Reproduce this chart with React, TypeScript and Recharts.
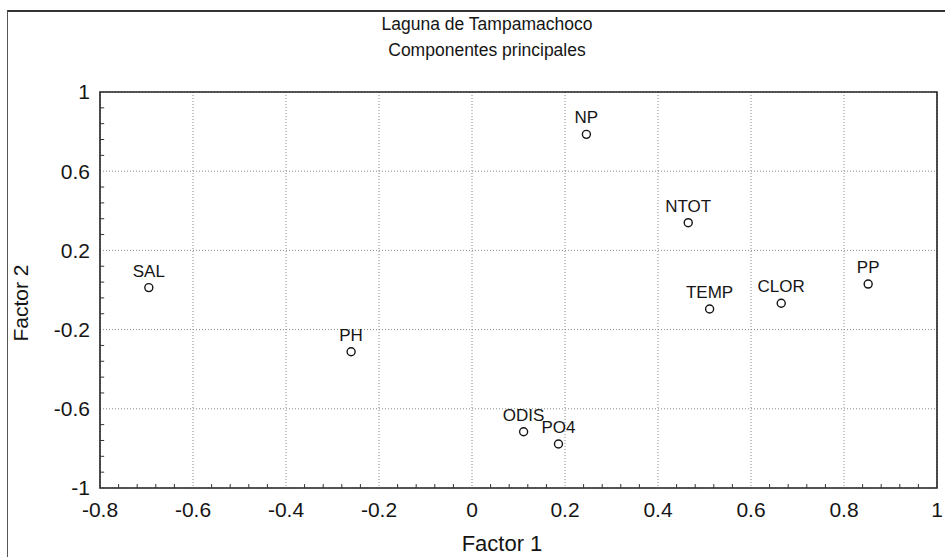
import React from "react";
import {
  ScatterChart,
  Scatter,
  XAxis,
  YAxis,
  CartesianGrid,
  ReferenceArea,
  ReferenceLine,
} from "recharts";

// Cargas de las variables en los dos primeros componentes
const variables = ["SAL", "PH", "NP", "NTOT", "TEMP", "CLOR", "PP", "ODIS", "PO4"];
const factor1 = [-0.695, -0.26, 0.246, 0.465, 0.511, 0.665, 0.852, 0.111, 0.186];
const factor2 = [0.012, -0.312, 0.786, 0.34, -0.096, -0.067, 0.03, -0.716, -0.778];

const xTicks = [-0.8, -0.6, -0.4, -0.2, 0, 0.2, 0.4, 0.6, 0.8, 1];
const yTicks = [-1, -0.6, -0.2, 0.2, 0.6, 1];

const titleLines = ["Laguna de Tampamachoco", "Componentes principales"];
const xTitle = "Factor 1";
const yTitle = "Factor 2";

// minor ticks: 5 intervals between major ticks
const minorTicks = (major: number[]) => {
  const out: number[] = [];
  for (let i = 0; i < major.length - 1; i++) {
    const step = (major[i + 1] - major[i]) / 5;
    for (let k = 1; k < 5; k++) out.push(+(major[i] + k * step).toFixed(3));
  }
  return out;
};
const xMinor = minorTicks(xTicks);
const yMinor = minorTicks(yTicks);

const data = variables.map((name, i) => ({ name, x: factor1[i], y: factor2[i] }));

const FONT = "'Liberation Sans', Arial, sans-serif";
const INK = "#151515";

const PointShape = (props: any) => {
  const { cx, cy, payload } = props;
  return (
    <g>
      <circle cx={cx} cy={cy} r={4} fill="none" stroke={INK} strokeWidth={1.4} />
      <text x={cx} y={cy - 11} textAnchor="middle" fontSize={17} fontFamily={FONT} fill={INK}>
        {payload.name}
      </text>
    </g>
  );
};

export default function App() {
  return (
    <div style={{ position: "absolute", left: 0, top: 0, width: 945, height: 557, background: "#fff", fontFamily: FONT, color: INK }}>
      <div style={{ position: "absolute", left: 7, top: 10, width: 960, height: 600, borderTop: "2px solid #333", borderLeft: "1.5px solid #555" }} />
      {titleLines.map((t, i) => (
        <div
          key={t}
          style={{ position: "absolute", left: 287, width: 400, top: 16 + i * 26, textAlign: "center", fontSize: 17.5, lineHeight: 1 }}
        >
          {t}
        </div>
      ))}
      <div style={{ position: "absolute", left: 402, width: 200, top: 533, textAlign: "center", fontSize: 22, lineHeight: 1 }}>
        {xTitle}
      </div>
      <div
        style={{
          position: "absolute",
          left: 20,
          top: 303,
          transform: "translate(-50%, -50%) rotate(-90deg)",
          whiteSpace: "nowrap",
          fontSize: 21,
          lineHeight: 1,
        }}
      >
        {yTitle}
      </div>
      <ScatterChart width={945} height={557} margin={{ top: 92, right: 8, left: 20, bottom: 0 }} style={{ position: "absolute", left: 0, top: 0 }}>
        <CartesianGrid stroke="#8a8a8a" strokeDasharray="1 2" />
        <XAxis
          type="number"
          dataKey="x"
          domain={[-0.8, 1]}
          ticks={xTicks}
          height={69}
          tickLine={false}
          axisLine={false}
          tickMargin={8}
          tick={{ fill: INK, fontSize: 21, fontFamily: FONT }}
        />
        <YAxis
          type="number"
          dataKey="y"
          domain={[-1, 1]}
          ticks={yTicks}
          width={80}
          tickLine={false}
          axisLine={false}
          tickMargin={4}
          tick={{ fill: INK, fontSize: 21, fontFamily: FONT }}
        />
        {xMinor.map((v) => (
          <ReferenceLine key={`xm${v}`} segment={[{ x: v, y: -1 }, { x: v, y: -0.98 }]} stroke="#333" strokeWidth={1} />
        ))}
        {yMinor.map((v) => (
          <ReferenceLine key={`ym${v}`} segment={[{ x: -0.8, y: v }, { x: -0.791, y: v }]} stroke="#333" strokeWidth={1} />
        ))}
        <ReferenceArea x1={-0.8} x2={1} y1={-1} y2={1} fill="none" fillOpacity={0} stroke="#222" strokeWidth={1.6} />
        <Scatter data={data} shape={PointShape} isAnimationActive={false} />
      </ScatterChart>
    </div>
  );
}
